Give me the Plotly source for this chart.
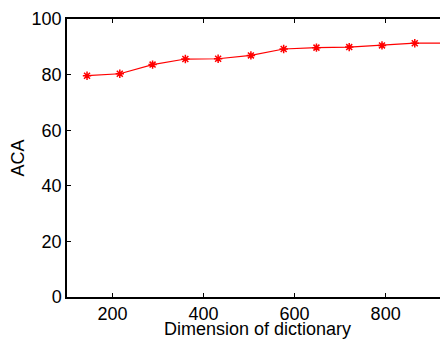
import plotly.graph_objects as go

dims = [144, 216, 288, 360, 432, 504, 576, 648, 720, 792, 864, 936]
aca = [79.6, 80.3, 83.6, 85.6, 85.7, 86.9, 89.2, 89.7, 89.9, 90.5, 91.3, 91.3]
x_ticks = [200, 400, 600, 800]
y_ticks = [0, 20, 40, 60, 80, 100]

fig = go.Figure()
fig.add_trace(go.Scatter(
    x=dims, y=aca, mode="lines+markers",
    line=dict(color="#ff0000", width=1.2),
    marker=dict(symbol="asterisk-open", size=7, color="#ff0000",
                line=dict(color="#ff0000", width=1.5)),
    showlegend=False,
))
# invisible trace for right-side ticks
fig.add_trace(go.Scatter(x=dims, y=aca, yaxis="y2", mode="none",
                         showlegend=False, hoverinfo="skip"))

font = dict(family="Liberation Sans, Arial, sans-serif", size=18, color="black")
fig.update_layout(
    width=440, height=331,
    margin=dict(l=59, r=0, t=11, b=42),
    paper_bgcolor="white", plot_bgcolor="white",
    font=font,
    xaxis=dict(range=[100, 937], tickvals=x_ticks, ticks="inside", ticklen=4,
               tickcolor="black", showline=True, linecolor="black", linewidth=1.5,
               mirror="ticks", showgrid=False, zeroline=False, automargin=False,
               title=dict(text="Dimension of dictionary", font=font, standoff=0)),
    yaxis=dict(range=[0, 100], tickvals=y_ticks, ticks="inside", ticklen=4,
               tickcolor="black", showline=True, linecolor="black", linewidth=1.5,
               showgrid=False, zeroline=False, automargin=False,
               title=dict(text="ACA", font=font, standoff=4)),
    yaxis2=dict(range=[0, 100], overlaying="y", side="right", tickvals=y_ticks,
                ticks="inside", ticklen=4, tickcolor="black", showticklabels=False,
                showline=False, showgrid=False, zeroline=False, automargin=False),
)
fig.write_html("out.html")
